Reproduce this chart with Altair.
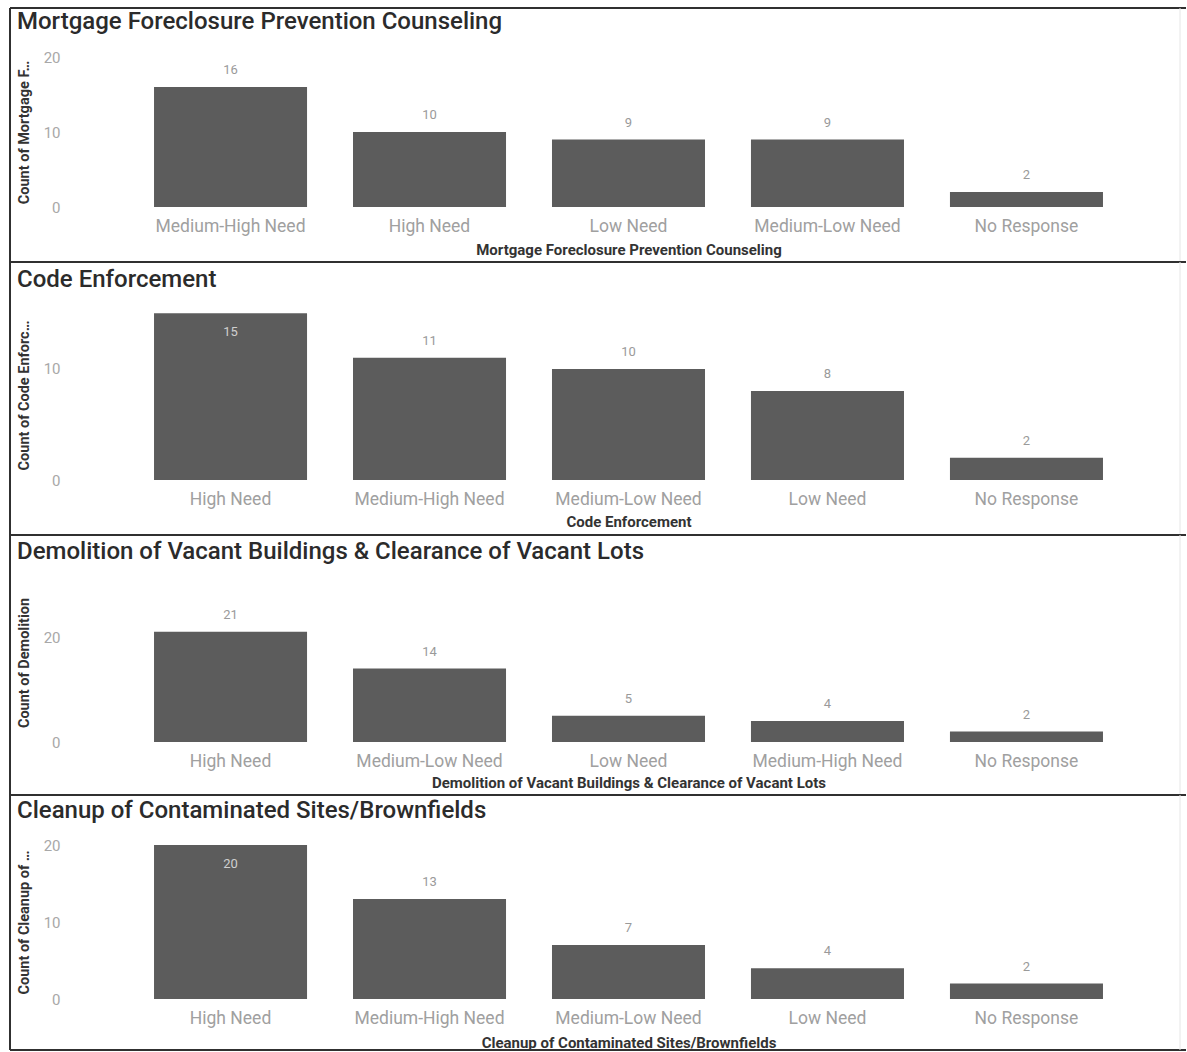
import altair as alt
import pandas as pd

# Survey responses: need level counts for four housing/neighbourhood services
panel_titles = [
    "Mortgage Foreclosure Prevention Counseling",
    "Code Enforcement",
    "Demolition of Vacant Buildings & Clearance of Vacant Lots",
    "Cleanup of Contaminated Sites/Brownfields",
]
y_titles = [
    "Count of Mortgage Foreclosure Prevention Counseling",
    "Count of Code Enforcement",
    "Count of Demolition",
    "Count of Cleanup of Contaminated Sites/Brownfields",
]

mortgage_cats = ["Medium-High Need", "High Need", "Low Need", "Medium-Low Need", "No Response"]
mortgage_vals = [16, 10, 9, 9, 2]

code_cats = ["High Need", "Medium-High Need", "Medium-Low Need", "Low Need", "No Response"]
code_vals = [15, 11, 10, 8, 2]

demolition_cats = ["High Need", "Medium-Low Need", "Low Need", "Medium-High Need", "No Response"]
demolition_vals = [21, 14, 5, 4, 2]

cleanup_cats = ["High Need", "Medium-High Need", "Medium-Low Need", "Low Need", "No Response"]
cleanup_vals = [20, 13, 7, 4, 2]

y_ticks = [[0, 10, 20], [0, 10], [0, 20], [0, 10, 20]]

# per-panel layout: y max, plot height, frame top/bottom, title y, x-title y
layout = [
    dict(ymax=20, height=150, frame=(-49, 205), title_y=-35, xt=42),
    dict(ymax=15.3, height=170, frame=(-48, 225), title_y=-30, xt=41),
    dict(ymax=30.3, height=159, frame=(-48, 212), title_y=-31, xt=40),
    dict(ymax=20, height=154, frame=(-50, 205), title_y=-34, xt=43),
]

PLOT_W = 1097
FRAME_L, FRAME_R = -70, 1106
BAR = "#5c5c5c"
FONT = "Roboto"
one = pd.DataFrame({"k": [0]})


def frame_lines(top, bottom):
    dark = dict(stroke="#303030", strokeWidth=2)
    top_rule = alt.Chart(one).mark_rule(**dark).encode(
        x=alt.value(FRAME_L), x2=alt.value(FRAME_R), y=alt.value(top))
    bottom_rule = alt.Chart(one).mark_rule(**dark).encode(
        x=alt.value(FRAME_L), x2=alt.value(FRAME_R), y=alt.value(bottom))
    left_rule = alt.Chart(one).mark_rule(**dark).encode(
        x=alt.value(FRAME_L), y=alt.value(top), y2=alt.value(bottom))
    right_rule = alt.Chart(one).mark_rule(stroke="#e6e6e6", strokeWidth=1).encode(
        x=alt.value(FRAME_R - 6), y=alt.value(top), y2=alt.value(bottom))
    return [top_rule, bottom_rule, left_rule, right_rule]


def panel(title, y_title, cats, vals, ticks, lay):
    df = pd.DataFrame({"category": cats, "count": vals})
    ppu = lay["height"] / lay["ymax"]
    # labels that would not fit above the bar go inside it
    thresh = (lay["height"] - 24) / ppu

    x = alt.X(
        "category:N",
        sort=cats,
        title=title,
        scale=alt.Scale(paddingInner=0.231, paddingOuter=0.372),
        axis=alt.Axis(labelAngle=0, titleY=lay["xt"]),
    )
    y = alt.Y(
        "count:Q",
        title=y_title,
        scale=alt.Scale(domain=[0, lay["ymax"]], nice=False),
        axis=alt.Axis(values=ticks),
    )

    bars = alt.Chart(df).mark_bar(color=BAR).encode(x=x, y=y)

    above = alt.Chart(df).transform_filter(
        alt.datum["count"] < thresh
    ).mark_text(dy=-17, fontSize=13, color="#9a9a9a", font=FONT).encode(
        x=alt.X("category:N", sort=cats), y="count:Q", text="count:Q"
    )
    inside = alt.Chart(df).transform_filter(
        alt.datum["count"] >= thresh
    ).mark_text(dy=19, fontSize=13, color="#cfcfcf", font=FONT).encode(
        x=alt.X("category:N", sort=cats), y="count:Q", text="count:Q"
    )

    heading = alt.Chart(one).mark_text(
        align="left", baseline="middle", fontSize=24, fontWeight=500,
        color="#2b2b2b", font=FONT,
    ).encode(x=alt.value(-63), y=alt.value(lay["title_y"]), text=alt.value(title))

    layers = frame_lines(*lay["frame"]) + [bars, above, inside, heading]
    return alt.layer(*layers).properties(width=PLOT_W, height=lay["height"])


panels = [
    panel(panel_titles[0], y_titles[0], mortgage_cats, mortgage_vals, y_ticks[0], layout[0]),
    panel(panel_titles[1], y_titles[1], code_cats, code_vals, y_ticks[1], layout[1]),
    panel(panel_titles[2], y_titles[2], demolition_cats, demolition_vals, y_ticks[2], layout[2]),
    panel(panel_titles[3], y_titles[3], cleanup_cats, cleanup_vals, y_ticks[3], layout[3]),
]

chart = alt.vconcat(*panels, spacing=103, bounds="flush").properties(
    padding={"left": 9, "top": 7, "right": 0, "bottom": 0},
    background="white",
).configure_view(stroke=None).configure_axisX(
    labelFont=FONT, labelFontSize=17.5, labelColor="#a0a0a0", labelPadding=10,
    labelLimit=300, ticks=False, tickSize=0, domain=False, grid=False,
    titleFont=FONT, titleFontSize=15, titleFontWeight="bold", titleColor="#333333",
    titleBaseline="middle",
).configure_axisY(
    labelFont=FONT, labelFontSize=15, labelColor="#a8a8a8", labelPadding=20,
    ticks=False, tickSize=0, domain=False, grid=False,
    titleFont=FONT, titleFontSize=14.5, titleFontWeight="bold", titleColor="#333333",
    titleX=-56, titleBaseline="middle", titleLimit=150,
)

chart.save("out.html", embed_options={"renderer": "svg", "actions": False})
